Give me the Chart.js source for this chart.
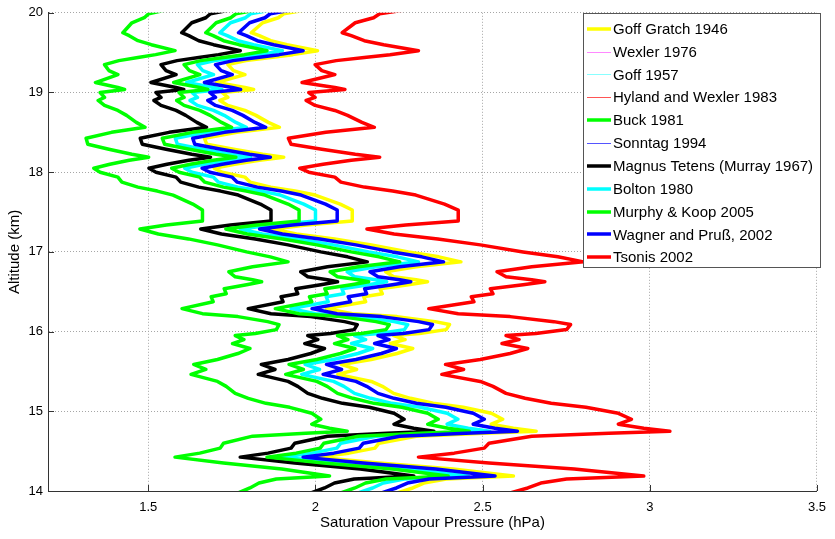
<!DOCTYPE html>
<html>
<head>
<meta charset="utf-8">
<title>Saturation vapour pressure profiles</title>
<script src="https://cdn.jsdelivr.net/npm/chart.js@4.4.1/dist/chart.umd.min.js"></script>
<style>
  html, body { margin: 0; padding: 0; background: #fff; }
  #wrap { width: 835px; height: 539px; }
</style>
</head>
<body>
<div id="wrap"><canvas id="svpChart" width="835" height="539"></canvas></div>
<script>
// Altitude levels of the profile (km)
const altitude = [
  20.075, 19.988, 19.938, 19.875, 19.75, 19.713, 19.65, 19.6, 19.525, 19.475,
  19.438, 19.4, 19.35, 19.275, 19.225, 19.125, 19.063, 19.038, 19.0, 18.938,
  18.9, 18.838, 18.775, 18.713, 18.625, 18.563, 18.5, 18.425, 18.35, 18.288,
  18.225, 18.188, 18.15, 18.1, 18.05, 18.0, 17.938, 17.875, 17.813, 17.763,
  17.713, 17.6, 17.525, 17.388, 17.338, 17.288, 17.225, 17.163, 17.088, 17.0,
  16.938, 16.875, 16.813, 16.75, 16.688, 16.65, 16.625, 16.588, 16.538, 16.475,
  16.438, 16.375, 16.288, 16.225, 16.188, 16.125, 16.088, 16.025, 15.975, 15.95,
  15.9, 15.85, 15.788, 15.725, 15.65, 15.588, 15.525, 15.463, 15.375, 15.313,
  15.225, 15.163, 15.1, 15.05, 14.975, 14.9, 14.838, 14.788, 14.75, 14.725,
  14.688, 14.6, 14.538, 14.475, 14.425, 14.35, 14.275, 14.188, 14.15, 14.1,
  14.038, 13.975, 13.9
];

// Saturation vapour pressure over ice (hPa), one array per formulation
const goffGratch1946 = [
  2.026, 1.905, 1.889, 1.842, 1.808, 1.832, 1.866, 1.915, 2.006, 1.932,
  1.866, 1.792, 1.738, 1.755, 1.789, 1.704, 1.789, 1.815, 1.721, 1.738,
  1.714, 1.738, 1.789, 1.822, 1.859, 1.892, 1.765, 1.668, 1.675, 1.755,
  1.842, 1.905, 1.832, 1.758, 1.697, 1.721, 1.789, 1.805, 1.866, 1.939,
  1.999, 2.074, 2.110, 2.110, 1.973, 1.872, 1.943, 2.057, 2.167, 2.278,
  2.369, 2.435, 2.301, 2.210, 2.234, 2.301, 2.335, 2.278, 2.193, 2.200,
  2.144, 2.150, 2.033, 2.110, 2.244, 2.358, 2.401, 2.391, 2.311, 2.234,
  2.268, 2.224, 2.291, 2.244, 2.167, 2.077, 2.123, 2.067, 2.167, 2.200,
  2.234, 2.284, 2.352, 2.442, 2.526, 2.560, 2.526, 2.592, 2.660, 2.502,
  2.301, 2.190, 2.178, 2.100, 2.006, 2.190, 2.411, 2.592, 2.391, 2.324,
  2.291, 2.244, 2.200
];

const buck1981 = [
  1.596, 1.501, 1.488, 1.451, 1.424, 1.443, 1.469, 1.509, 1.580, 1.522,
  1.469, 1.412, 1.369, 1.382, 1.409, 1.342, 1.409, 1.429, 1.356, 1.369,
  1.350, 1.369, 1.409, 1.435, 1.464, 1.490, 1.390, 1.314, 1.319, 1.382,
  1.451, 1.501, 1.443, 1.385, 1.337, 1.356, 1.409, 1.421, 1.469, 1.527,
  1.574, 1.633, 1.662, 1.662, 1.554, 1.475, 1.530, 1.620, 1.707, 1.794,
  1.865, 1.918, 1.812, 1.741, 1.760, 1.812, 1.839, 1.794, 1.727, 1.733,
  1.688, 1.694, 1.601, 1.662, 1.768, 1.857, 1.891, 1.883, 1.820, 1.760,
  1.786, 1.752, 1.804, 1.768, 1.707, 1.636, 1.672, 1.628, 1.707, 1.733,
  1.760, 1.799, 1.852, 1.923, 1.989, 2.016, 1.989, 2.042, 2.095, 1.971,
  1.812, 1.725, 1.715, 1.654, 1.580, 1.725, 1.899, 2.042, 1.883, 1.831,
  1.804, 1.768, 1.733
];

const magnusTetens = [
  1.793, 1.686, 1.672, 1.630, 1.600, 1.621, 1.651, 1.695, 1.775, 1.710,
  1.651, 1.586, 1.538, 1.553, 1.583, 1.508, 1.583, 1.606, 1.523, 1.538,
  1.517, 1.538, 1.583, 1.612, 1.645, 1.674, 1.562, 1.476, 1.482, 1.553,
  1.630, 1.686, 1.621, 1.556, 1.502, 1.523, 1.583, 1.597, 1.651, 1.716,
  1.769, 1.835, 1.867, 1.867, 1.746, 1.657, 1.719, 1.820, 1.918, 2.016,
  2.096, 2.155, 2.036, 1.956, 1.977, 2.036, 2.066, 2.016, 1.941, 1.947,
  1.897, 1.903, 1.799, 1.867, 1.986, 2.087, 2.125, 2.116, 2.045, 1.977,
  2.007, 1.968, 2.027, 1.986, 1.918, 1.838, 1.879, 1.829, 1.918, 1.947,
  1.977, 2.021, 2.081, 2.161, 2.235, 2.265, 2.235, 2.294, 2.354, 2.214,
  2.036, 1.938, 1.927, 1.858, 1.775, 1.938, 2.134, 2.294, 2.116, 2.057,
  2.027, 1.986, 1.947
];

const bolton1980 = [
  1.920, 1.806, 1.791, 1.746, 1.714, 1.736, 1.768, 1.815, 1.901, 1.831,
  1.768, 1.699, 1.647, 1.663, 1.695, 1.615, 1.695, 1.720, 1.631, 1.647,
  1.625, 1.647, 1.695, 1.727, 1.762, 1.793, 1.673, 1.581, 1.587, 1.663,
  1.746, 1.806, 1.736, 1.667, 1.609, 1.631, 1.695, 1.710, 1.768, 1.838,
  1.895, 1.965, 2.000, 2.000, 1.870, 1.775, 1.841, 1.949, 2.054, 2.159,
  2.245, 2.308, 2.181, 2.095, 2.117, 2.181, 2.213, 2.159, 2.079, 2.085,
  2.032, 2.038, 1.927, 2.000, 2.127, 2.235, 2.276, 2.266, 2.190, 2.117,
  2.150, 2.108, 2.171, 2.127, 2.054, 1.969, 2.012, 1.959, 2.054, 2.085,
  2.117, 2.165, 2.229, 2.314, 2.394, 2.426, 2.394, 2.457, 2.521, 2.371,
  2.181, 2.076, 2.064, 1.990, 1.901, 2.076, 2.286, 2.457, 2.266, 2.203,
  2.171, 2.127, 2.085
];

const murphyKoop2005 = [
  1.874, 1.762, 1.747, 1.703, 1.672, 1.694, 1.725, 1.771, 1.855, 1.787,
  1.725, 1.657, 1.607, 1.623, 1.654, 1.576, 1.654, 1.678, 1.592, 1.607,
  1.585, 1.607, 1.654, 1.685, 1.719, 1.749, 1.632, 1.542, 1.549, 1.623,
  1.703, 1.762, 1.694, 1.626, 1.570, 1.592, 1.654, 1.669, 1.725, 1.793,
  1.849, 1.918, 1.951, 1.951, 1.825, 1.732, 1.796, 1.902, 2.004, 2.107,
  2.190, 2.252, 2.128, 2.044, 2.066, 2.128, 2.159, 2.107, 2.028, 2.035,
  1.982, 1.989, 1.880, 1.951, 2.075, 2.181, 2.221, 2.211, 2.137, 2.066,
  2.097, 2.057, 2.118, 2.075, 2.004, 1.921, 1.964, 1.911, 2.004, 2.035,
  2.066, 2.112, 2.175, 2.258, 2.336, 2.367, 2.336, 2.397, 2.460, 2.314,
  2.128, 2.025, 2.014, 1.942, 1.855, 2.025, 2.230, 2.397, 2.211, 2.150,
  2.118, 2.075, 2.035
];

const wagnerPruss2002 = [
  1.983, 1.865, 1.849, 1.803, 1.770, 1.793, 1.826, 1.875, 1.963, 1.891,
  1.826, 1.754, 1.701, 1.718, 1.751, 1.668, 1.751, 1.776, 1.684, 1.701,
  1.678, 1.701, 1.751, 1.783, 1.819, 1.851, 1.728, 1.633, 1.639, 1.718,
  1.803, 1.865, 1.793, 1.721, 1.661, 1.684, 1.751, 1.766, 1.826, 1.898,
  1.957, 2.030, 2.065, 2.065, 1.931, 1.833, 1.901, 2.013, 2.121, 2.230,
  2.318, 2.383, 2.252, 2.163, 2.187, 2.252, 2.285, 2.230, 2.147, 2.153,
  2.098, 2.105, 1.990, 2.065, 2.197, 2.308, 2.350, 2.340, 2.262, 2.187,
  2.220, 2.177, 2.242, 2.197, 2.121, 2.033, 2.078, 2.023, 2.121, 2.153,
  2.187, 2.235, 2.302, 2.390, 2.472, 2.505, 2.472, 2.537, 2.604, 2.449,
  2.252, 2.143, 2.131, 2.055, 1.963, 2.143, 2.360, 2.537, 2.340, 2.275,
  2.242, 2.197, 2.153
];

const tsonis2002 = [
  2.331, 2.192, 2.174, 2.119, 2.080, 2.107, 2.146, 2.204, 2.308, 2.223,
  2.146, 2.062, 1.999, 2.019, 2.058, 1.960, 2.058, 2.088, 1.980, 1.999,
  1.972, 1.999, 2.058, 2.096, 2.139, 2.176, 2.031, 1.919, 1.927, 2.019,
  2.119, 2.192, 2.107, 2.023, 1.953, 1.980, 2.058, 2.076, 2.146, 2.231,
  2.300, 2.386, 2.427, 2.427, 2.270, 2.154, 2.235, 2.366, 2.493, 2.621,
  2.725, 2.802, 2.647, 2.543, 2.570, 2.647, 2.686, 2.621, 2.523, 2.531,
  2.466, 2.474, 2.339, 2.427, 2.582, 2.713, 2.763, 2.751, 2.659, 2.570,
  2.609, 2.558, 2.635, 2.582, 2.493, 2.389, 2.443, 2.378, 2.493, 2.531,
  2.570, 2.627, 2.705, 2.809, 2.906, 2.945, 2.906, 2.982, 3.060, 2.878,
  2.647, 2.519, 2.505, 2.415, 2.308, 2.519, 2.774, 2.982, 2.751, 2.674,
  2.635, 2.582, 2.531
];

// These agree with Wagner & Pruss to within the line width at these temperatures
const wexler1976 = wagnerPruss2002;
const goff1957 = wagnerPruss2002;
const hylandWexler1983 = wagnerPruss2002;
const sonntag1994 = wagnerPruss2002;

const seriesNames = [
  'Goff Gratch 1946', 'Wexler 1976', 'Goff 1957', 'Hyland and Wexler 1983',
  'Buck 1981', 'Sonntag 1994', 'Magnus Tetens (Murray 1967)', 'Bolton 1980',
  'Murphy & Koop 2005', 'Wagner and Pruß, 2002', 'Tsonis 2002'
];
const seriesValues = [
  goffGratch1946, wexler1976, goff1957, hylandWexler1983,
  buck1981, sonntag1994, magnusTetens, bolton1980,
  murphyKoop2005, wagnerPruss2002, tsonis2002
];

const xTicks = [1.5, 2, 2.5, 3, 3.5];
const yTicks = [14, 15, 16, 17, 18, 19, 20];

// Line styles, same order as seriesNames
const lineColors = [
  '#ffff00', '#ff88ff', '#88ffff', '#ff5555',
  '#00ff00', '#5555ff', '#000000', '#00ffff',
  '#00ff00', '#0000ff', '#ff0000'
];
const lineWidths = [3.5, 1, 1, 1, 3.5, 1, 3.5, 3.5, 3.5, 3.5, 3.5];

const FONT = "'Liberation Sans', Arial, Helvetica, sans-serif";
Chart.defaults.font.family = FONT;
Chart.defaults.color = '#000';

// Inward tick marks plus a boxed legend in the upper right corner
const axesDecor = {
  id: 'axesDecor',
  beforeDatasetsDraw(chart) {
    const { ctx, chartArea, scales } = chart;
    ctx.save();
    ctx.strokeStyle = '#333';
    ctx.lineWidth = 1;
    ctx.beginPath();
    xTicks.forEach(v => {
      const px = Math.round(scales.x.getPixelForValue(v)) + 0.5;
      ctx.moveTo(px, chartArea.bottom);
      ctx.lineTo(px, chartArea.bottom - 6);
    });
    yTicks.forEach(v => {
      const py = Math.round(scales.y.getPixelForValue(v)) + 0.5;
      ctx.moveTo(chartArea.left, py);
      ctx.lineTo(chartArea.left + 6, py);
    });
    ctx.stroke();
    ctx.restore();
  },
  afterDraw(chart) {
    const ctx = chart.ctx;
    const box = { x: 583.5, y: 13.5, w: 237, h: 254 };
    const rowGap = 22.86;
    ctx.save();
    ctx.fillStyle = '#fff';
    ctx.fillRect(box.x, box.y, box.w, box.h);
    ctx.strokeStyle = '#555';
    ctx.lineWidth = 1;
    ctx.strokeRect(box.x, box.y, box.w, box.h);
    ctx.font = '15px ' + FONT;
    ctx.textBaseline = 'middle';
    ctx.fillStyle = '#000';
    chart.data.datasets.forEach((ds, i) => {
      const y = 28.7 + i * rowGap;
      // keep the 1px samples on a pixel row so they stay crisp
      const ly = ds.borderWidth < 2 ? Math.round(y) + 0.5 : Math.round(y);
      ctx.strokeStyle = ds.borderColor;
      ctx.lineWidth = ds.borderWidth;
      ctx.beginPath();
      ctx.moveTo(587, ly);
      ctx.lineTo(611, ly);
      ctx.stroke();
      ctx.fillText(ds.label, 613, y + 1);
    });
    ctx.restore();
  }
};

// One scatter-with-line dataset per formulation; later entries sit on top
const datasets = seriesNames.map((name, i) => ({
  label: name,
  data: seriesValues[i].map((p, k) => ({ x: p, y: altitude[k] })),
  showLine: true,
  borderColor: lineColors[i],
  backgroundColor: lineColors[i],
  borderWidth: lineWidths[i],
  borderJoinStyle: 'round',
  borderCapStyle: 'round',
  pointRadius: 0,
  tension: 0,
  fill: false,
  clip: 0,
  order: seriesNames.length - i
}));

new Chart(document.getElementById('svpChart'), {
  type: 'scatter',
  data: { datasets: datasets },
  options: {
    responsive: false,
    animation: false,
    events: [],
    layout: { padding: { top: 10, right: 12, left: 0, bottom: 0 } },
    plugins: {
      legend: { display: false },
      tooltip: { enabled: false }
    },
    scales: {
      x: {
        type: 'linear',
        min: 1.2,
        max: 3.5,
        afterBuildTicks: scale => { scale.ticks = xTicks.map(v => ({ value: v })); },
        afterFit: scale => { scale.height = 48; },
        ticks: {
          padding: 9,
          font: { size: 13 },
          callback: v => String(v)
        },
        grid: { color: '#a6a6a6', drawTicks: false },
        border: { color: '#333', dash: [1, 2] },
        title: {
          display: true,
          text: 'Saturation Vapour Pressure (hPa)',
          font: { size: 15 },
          padding: { top: 0, bottom: 7 }
        }
      },
      y: {
        type: 'linear',
        min: 14,
        max: 20,
        afterBuildTicks: scale => { scale.ticks = yTicks.map(v => ({ value: v })); },
        afterFit: scale => { scale.width = 48; },
        ticks: {
          padding: 5,
          font: { size: 13 }
        },
        grid: { color: '#a6a6a6', drawTicks: false },
        border: { color: '#333', dash: [1, 2] },
        title: {
          display: true,
          text: 'Altitude (km)',
          font: { size: 15 },
          padding: { top: 6, bottom: 0 }
        }
      }
    }
  },
  plugins: [axesDecor]
});
</script>
</body>
</html>
